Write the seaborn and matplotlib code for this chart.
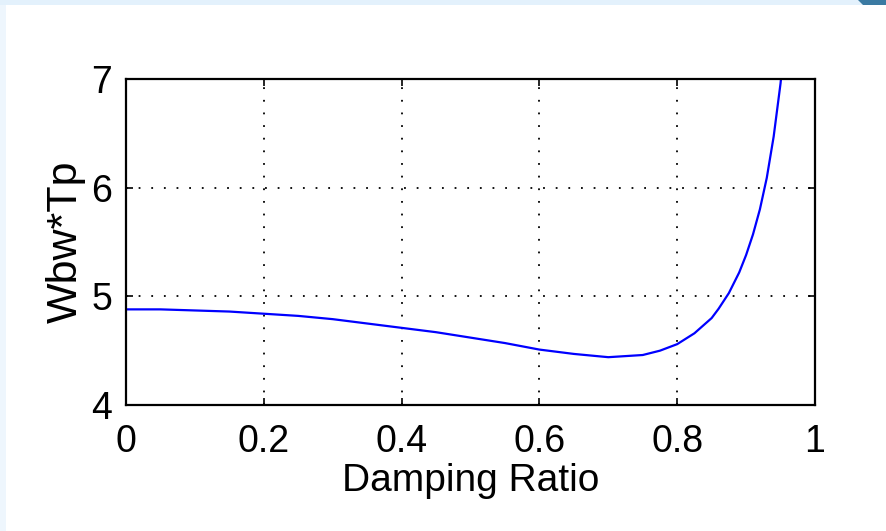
import matplotlib
matplotlib.use("Agg")
import matplotlib.pyplot as plt
from matplotlib import font_manager
from matplotlib.patches import Rectangle, Polygon
import seaborn as sns
import pandas as pd

# data
damping = [0.0, 0.05, 0.1, 0.15, 0.2, 0.25, 0.3, 0.35, 0.4, 0.45, 0.5, 0.55,
           0.6, 0.65, 0.7, 0.75, 0.775, 0.8, 0.825, 0.85, 0.86, 0.875, 0.89,
           0.9, 0.91, 0.92, 0.93, 0.94, 0.95, 0.955, 0.96]
wbw_tp = [4.88, 4.88, 4.87, 4.86, 4.84, 4.82, 4.79, 4.75, 4.71, 4.67, 4.62,
          4.57, 4.51, 4.47, 4.44, 4.46, 4.50, 4.56, 4.66, 4.80, 4.885, 5.03,
          5.22, 5.38, 5.57, 5.80, 6.09, 6.47, 6.96, 7.28, 7.65]
x_ticks = [0, 0.2, 0.4, 0.6, 0.8, 1]
x_tick_labels = ["0", "0.2", "0.4", "0.6", "0.8", "1"]
y_ticks = [4, 5, 6, 7]
y_tick_labels = ["4", "5", "6", "7"]
x_label = "Damping Ratio"
y_label = "Wbw*Tp"

sns.set_theme(style="white")
names = {f.name for f in font_manager.fontManager.ttflist}
fam = [f for f in ["Liberation Sans Narrow", "Liberation Sans", "DejaVu Sans"] if f in names]
plt.rcParams["font.family"] = fam

fig = plt.figure(figsize=(8.87, 5.31), dpi=100)
fig.patch.set_facecolor("white")
# decorative slide border
fig.patches.append(Rectangle((0, 0), 6 / 887, 1, transform=fig.transFigure,
                             facecolor="#eef6fd", edgecolor="none", zorder=0))
fig.patches.append(Rectangle((0, 1 - 5 / 531), 1, 5 / 531, transform=fig.transFigure,
                             facecolor="#e3f1fc", edgecolor="none", zorder=0))
fig.patches.append(Polygon([(858 / 887, 1), (1, 1), (1, 1 - 5 / 531), (863 / 887, 1 - 5 / 531)],
                           closed=True, transform=fig.transFigure,
                           facecolor="#3b7aa2", edgecolor="none", zorder=1))

ax = fig.add_axes([126 / 887, 1 - 405 / 531, (815 - 126) / 887, (405 - 79) / 531])
df = pd.DataFrame({"x": damping, "y": wbw_tp})
sns.lineplot(data=df, x="x", y="y", ax=ax, color="#0000ff", linewidth=1.6,
             estimator=None, sort=False)

ax.set_xlim(0, 1)
ax.set_ylim(4, 7)
ax.set_xticks(x_ticks)
ax.set_xticklabels(x_tick_labels)
ax.set_yticks(y_ticks)
ax.set_yticklabels(y_tick_labels)
ax.set_xlabel(x_label, fontsize=28, labelpad=2, color="black")
ax.set_ylabel(y_label, fontsize=31, labelpad=4, color="black")

ax.grid(True, color="black", linestyle=(0, (1, 6)), linewidth=1.3)
ax.tick_params(axis="both", which="both", direction="in", length=5, width=1.2,
               top=True, right=True, bottom=True, left=True,
               labelsize=27, colors="black", labelcolor="black")
ax.tick_params(axis="x", pad=14)
ax.tick_params(axis="y", pad=10)
for s in ax.spines.values():
    s.set_visible(True)
    s.set_color("black")
    s.set_linewidth(1.6)

fig.savefig("out.png", dpi=100, facecolor=fig.get_facecolor())
